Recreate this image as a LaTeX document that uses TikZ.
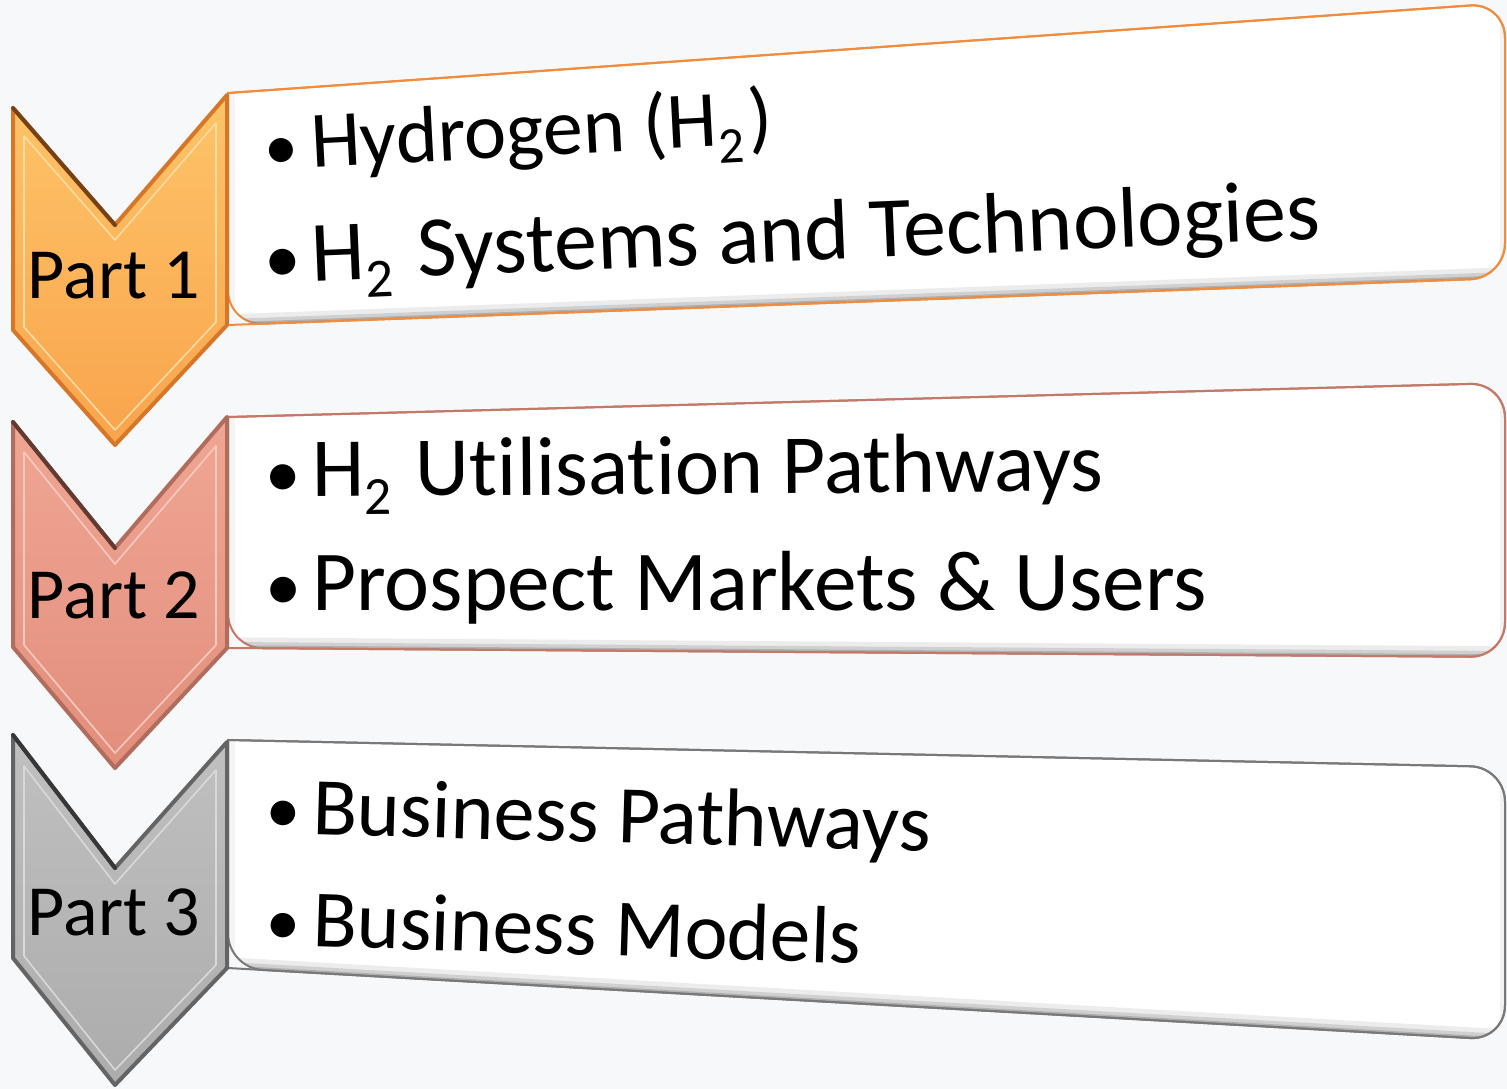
\documentclass[tikz,border=0pt]{standalone}
\usepackage{fontspec}
\usepackage{graphicx}
\setmainfont{Carlito}[Ligatures=NoCommon]
\usetikzlibrary{calc}
\definecolor{bgblu}{RGB}{246,248,250}
\definecolor{orgtop}{RGB}{254,196,104}
\definecolor{orgbot}{RGB}{249,164,76}
\definecolor{orgedge}{RGB}{214,118,40}
\definecolor{orgline}{RGB}{240,140,60}
\definecolor{saltop}{RGB}{240,166,148}
\definecolor{salbot}{RGB}{226,142,124}
\definecolor{saledge}{RGB}{176,108,92}
\definecolor{salline}{RGB}{196,120,104}
\definecolor{grytop}{RGB}{192,192,192}
\definecolor{grybot}{RGB}{172,172,172}
\definecolor{gryedge}{RGB}{100,100,100}
\definecolor{gryline}{RGB}{120,120,120}
\newcommand{\htwo}{H\raisebox{-0.22em}{\scalebox{0.64}{2}}\kern0.06em}
\newcommand{\bul}{\makebox[33pt][l]{\hspace{-2pt}\scalebox{0.85}{\textbullet}}}

\begin{document}
\begin{tikzpicture}[x=0.75pt,y=0.75pt,yscale=-1,xscale=1,
	partlabel/.style={inner sep=0pt,font=\fontsize{54}{60}\selectfont},
	itemtext/.style={anchor=base west,inner sep=0pt,font=\fontsize{63}{70}\selectfont},
	boxshadow/.style={gray,line cap=round}]
	\useasboundingbox (0,0) rectangle (1507,1089);
	\fill [bgblu] (0,0) rectangle (1507,1089);

	% boxes
	\draw [orgline, line width=1.5pt, fill=white] (228,93) [rounded corners=26] -- (1505,3) -- (1505,278) -- (228,325) [sharp corners] -- cycle;
	\begin{scope}
		\clip (228,93) [rounded corners=26] -- (1505,3) -- (1505,278) -- (228,325) [sharp corners] -- cycle;
		\draw [boxshadow, line width=16, opacity=0.15] (228,325) -- (1505,278);
		\draw [boxshadow, line width=9, opacity=0.25] (228,325) -- (1505,278);
		\draw [boxshadow, line width=4, opacity=0.4] (228,325) -- (1505,278);
		\draw [gray, line width=10, opacity=0.08] (228,93) -- (228,325);
		\draw [gray, line width=8, opacity=0.1] (1505,3) -- (1505,278);
	\end{scope}
	\draw [orgline, line width=1.5pt] (228,93) [rounded corners=26] -- (1505,3) -- (1505,278) -- (228,325);

	\draw [salline, line width=1.5pt, fill=white] (228,417) [rounded corners=26] -- (1505,383) -- (1505,657) -- (228,648) [sharp corners] -- cycle;
	\begin{scope}
		\clip (228,417) [rounded corners=26] -- (1505,383) -- (1505,657) -- (228,648) [sharp corners] -- cycle;
		\draw [boxshadow, line width=16, opacity=0.15] (228,648) -- (1505,657);
		\draw [boxshadow, line width=9, opacity=0.25] (228,648) -- (1505,657);
		\draw [boxshadow, line width=4, opacity=0.4] (228,648) -- (1505,657);
		\draw [gray, line width=10, opacity=0.08] (228,417) -- (228,648);
		\draw [gray, line width=8, opacity=0.1] (1505,383) -- (1505,657);
	\end{scope}
	\draw [salline, line width=1.5pt] (228,417) [rounded corners=26] -- (1505,383) -- (1505,657) -- (228,648);

	\draw [gryline, line width=1.5pt, fill=white] (228,740) [rounded corners=26] -- (1505,767) -- (1505,1040) -- (228,968) [sharp corners] -- cycle;
	\begin{scope}
		\clip (228,740) [rounded corners=26] -- (1505,767) -- (1505,1040) -- (228,968) [sharp corners] -- cycle;
		\draw [boxshadow, line width=16, opacity=0.15] (228,968) -- (1505,1040);
		\draw [boxshadow, line width=9, opacity=0.25] (228,968) -- (1505,1040);
		\draw [boxshadow, line width=4, opacity=0.4] (228,968) -- (1505,1040);
		\draw [gray, line width=10, opacity=0.08] (228,740) -- (228,968);
		\draw [gray, line width=8, opacity=0.1] (1505,767) -- (1505,1040);
	\end{scope}
	\draw [gryline, line width=1.5pt] (228,740) [rounded corners=26] -- (1505,767) -- (1505,1040) -- (228,968);

	% chevrons
	\draw [orgedge, line width=3pt, top color=orgtop, bottom color=orgbot, line join=round] (13,108) -- (115,225) -- (227,95) -- (227,325) -- (115,445) -- (13,330) -- cycle;
	\draw [orgedge!55!black, line width=3pt, line cap=round] (13,108) -- (115,225);
	\draw [orgtop!60!white, line width=1.2pt, line join=round] (24,136) -- (115,240) -- (216,123) -- (216,322) -- (115,430) -- (24,327) -- cycle;

	\draw [saledge, line width=3pt, top color=saltop, bottom color=salbot, line join=round] (13,422) -- (115,548) -- (227,417) -- (227,648) -- (115,768) -- (13,647) -- cycle;
	\draw [saledge!55!black, line width=3pt, line cap=round] (13,422) -- (115,548);
	\draw [saltop!60!white, line width=1.2pt, line join=round] (24,452) -- (115,564) -- (216,446) -- (216,645) -- (115,753) -- (24,645) -- cycle;

	\draw [gryedge, line width=3pt, top color=grytop, bottom color=grybot, line join=round] (13,735) -- (115,868) -- (227,742) -- (227,968) -- (115,1085) -- (13,958) -- cycle;
	\draw [gryedge!55!black, line width=3pt, line cap=round] (13,735) -- (115,868);
	\draw [grytop!60!white, line width=1.2pt, line join=round] (24,766) -- (115,884) -- (216,770) -- (216,965) -- (115,1070) -- (24,956) -- cycle;

	\node [partlabel] (part1) at (114,276) {Part 1};
	\node [partlabel] (part2) at (114,595) {Part 2};
	\node [partlabel] (part3) at (114,912) {Part 3};

	% items
	\node [itemtext, rotate=3, font=\fontsize{60}{70}\selectfont] (hydrogen) at (268,170) {\bul Hydrogen (\htwo)};
	\node [itemtext, rotate=2.4, font=\fontsize{64.5}{70}\selectfont] (systems) at (268,283) {\bul\htwo{} Systems and Technologies};
	\node [itemtext, rotate=0.4] (utilisation) at (268,497) {\bul\htwo{} Utilisation Pathways};
	\node [itemtext, font=\fontsize{64}{70}\selectfont] (markets) at (268,610) {\bul Prospect Markets \& Users};
	\node [itemtext, rotate=-1.6, font=\fontsize{61.5}{70}\selectfont] (pathways) at (268,833) {\bul Business Pathways};
	\node [itemtext, rotate=-1.8, font=\fontsize{61}{70}\selectfont] (models) at (268,945) {\bul Business Models};
\end{tikzpicture}
\end{document}
